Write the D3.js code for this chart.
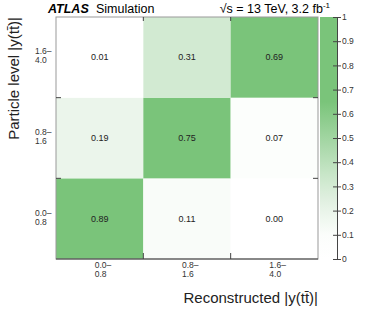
<!DOCTYPE html>
<html lang="en">
<head>
  <meta charset="UTF-8">
  <title>Migration matrix</title>
  <script src="https://d3js.org/d3.v7.min.js"></script>
  <style>
    body { margin: 0; background: #fff; }
    text { font-family: "Liberation Sans", Arial, sans-serif; }
  </style>
</head>
<body>
  <script>
    // bins (reco on x, particle on y)
    var recoBins = ["0.0–\n0.8", "0.8–\n1.6", "1.6–\n4.0"];
    var partBins = ["0.0–\n0.8", "0.8–\n1.6", "1.6–\n4.0"];
    // matrix rows = particle level bin, columns = reco bin
    var row0 = [0.89, 0.11, 0.00];
    var row1 = [0.19, 0.75, 0.07];
    var row2 = [0.01, 0.31, 0.69];
    var zTicks = [0, 0.1, 0.2, 0.3, 0.4, 0.5, 0.6, 0.7, 0.8, 0.9, 1];

    var width = 374, height = 324;
    var pLeft = 56, pRight = 318, pTop = 17, pBottom = 259;

    var svg = d3.select("body").append("svg")
      .attr("width", width)
      .attr("height", height);

    var x = d3.scaleBand().domain(d3.range(3)).range([pLeft, pRight]);
    var y = d3.scaleBand().domain(d3.range(3)).range([pBottom, pTop]);
    var color = d3.scaleLinear()
      .domain([0, 0.1, 0.2, 0.31, 0.65, 1])
      .range(["#ffffff", "#fbfdfb", "#e9f4e9", "#d2ead2", "#7ac47a", "#7ac47a"]);

    var cells = [];
    [row0, row1, row2].forEach(function(r, j) {
      r.forEach(function(v, i) { cells.push({ i: i, j: j, v: v }); });
    });

    svg.selectAll(".cell").data(cells).enter().append("rect")
      .attr("x", d => x(d.i))
      .attr("y", d => y(d.j))
      .attr("width", x.bandwidth())
      .attr("height", y.bandwidth())
      .attr("fill", d => color(d.v));

    svg.selectAll(".val").data(cells).enter().append("text")
      .attr("x", d => x(d.i) + x.bandwidth() / 2)
      .attr("y", d => y(d.j) + y.bandwidth() / 2 + 3)
      .attr("text-anchor", "middle")
      .attr("font-size", 9)
      .attr("fill", "#222")
      .text(d => d.v.toFixed(2));

    // frame
    svg.append("rect")
      .attr("x", pLeft).attr("y", pTop)
      .attr("width", pRight - pLeft).attr("height", pBottom - pTop)
      .attr("fill", "none").attr("stroke", "#999").attr("stroke-width", 1);
    svg.append("line")
      .attr("x1", pLeft).attr("x2", pRight).attr("y1", pBottom).attr("y2", pBottom)
      .attr("stroke", "#444");

    // ticks at bin edges
    [1, 2].forEach(function(k) {
      var xe = x(k), ye = y(k - 1);
      svg.append("line").attr("x1", xe).attr("x2", xe).attr("y1", pBottom).attr("y2", pBottom - 6).attr("stroke", "#444");
      svg.append("line").attr("x1", xe).attr("x2", xe).attr("y1", pTop).attr("y2", pTop + 4).attr("stroke", "#444");
      svg.append("line").attr("x1", pLeft).attr("x2", pLeft + 5).attr("y1", ye).attr("y2", ye).attr("stroke", "#444");
      svg.append("line").attr("x1", pRight).attr("x2", pRight - 5).attr("y1", ye).attr("y2", ye).attr("stroke", "#444");
    });

    // x tick labels
    recoBins.forEach(function(lab, i) {
      var t = svg.append("text")
        .attr("x", x(i) + x.bandwidth() / 2 - 5)
        .attr("y", 268)
        .attr("font-size", 8.5)
        .attr("fill", "#333");
      lab.split("\n").forEach(function(s, k) {
        t.append("tspan").attr("x", x(i) + x.bandwidth() / 2 - 5).attr("dy", k ? 9 : 0).text(s);
      });
    });

    // y tick labels
    partBins.forEach(function(lab, j) {
      var cy = y(j) + y.bandwidth() / 2;
      var t = svg.append("text")
        .attr("x", 35)
        .attr("y", cy - 3)
        .attr("font-size", 8.5)
        .attr("fill", "#333");
      lab.split("\n").forEach(function(s, k) {
        t.append("tspan").attr("x", 35).attr("dy", k ? 9 : 0).text(s);
      });
    });

    // axis titles
    svg.append("text")
      .attr("x", pRight).attr("y", 303)
      .attr("text-anchor", "end")
      .attr("font-size", 15)
      .attr("fill", "#222")
      .text("Reconstructed |y(tt̄)|");
    svg.append("text")
      .attr("transform", "translate(19," + pTop + ") rotate(-90)")
      .attr("text-anchor", "end")
      .attr("font-size", 15)
      .attr("fill", "#222")
      .text("Particle level |y(tt̄)|");

    // header
    svg.append("text")
      .attr("x", 48).attr("y", 13)
      .attr("font-size", 12.5)
      .attr("font-weight", "bold")
      .attr("font-style", "italic")
      .text("ATLAS");
    svg.append("text")
      .attr("x", 96).attr("y", 13)
      .attr("font-size", 12.5)
      .text("Simulation");
    var h = svg.append("text")
      .attr("x", 330).attr("y", 13)
      .attr("text-anchor", "end")
      .attr("font-size", 12.5);
    h.append("tspan").text("√s = 13 TeV, 3.2 fb");
    h.append("tspan").attr("dy", -5).attr("font-size", 8).text("-1");

    // colour bar
    var barX = 320, barW = 17;
    var z = d3.scaleLinear().domain([0, 1]).range([pBottom, pTop]);
    var grad = svg.append("defs").append("linearGradient")
      .attr("id", "zgrad").attr("x1", 0).attr("x2", 0).attr("y1", 1).attr("y2", 0);
    grad.selectAll("stop").data(d3.range(0, 1.001, 0.05)).enter().append("stop")
      .attr("offset", d => d)
      .attr("stop-color", d => color(d));
    svg.append("rect")
      .attr("x", barX).attr("y", pTop)
      .attr("width", barW).attr("height", pBottom - pTop)
      .attr("fill", "url(#zgrad)");
    var zAxis = svg.append("g")
      .attr("transform", "translate(" + (barX + barW) + ",0)")
      .call(d3.axisRight(z).tickValues(zTicks).tickSize(0).tickFormat(d3.format("")));
    zAxis.select(".domain").attr("stroke", "#444");
    zAxis.selectAll(".tick text").attr("x", 5).attr("font-size", 8.5).attr("fill", "#333")
      .style("font-family", "Liberation Sans, Arial, sans-serif");
    zAxis.selectAll(".tick").append("line")
      .attr("x1", -4).attr("x2", 4).attr("stroke", "#444");
  </script>
</body>
</html>
